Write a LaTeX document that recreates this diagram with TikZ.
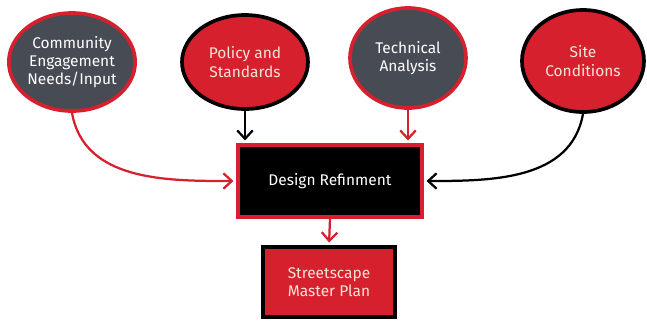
\documentclass[tikz,border=0pt]{standalone}
\usepackage{fontspec}
\setmainfont{Fira Sans}
\usepackage{tikz}
\usetikzlibrary{shapes.geometric,arrows.meta}
\definecolor{planred}{HTML}{D6202E}
\definecolor{slate}{HTML}{474B54}
\definecolor{cream}{HTML}{F6E4D8}

\begin{document}
\begin{tikzpicture}[x=0.025cm,y=-0.025cm,>={Straight Barb[length=6pt,width=11pt]},
	bubble/.style={ellipse, line width=2.6pt, align=center, inner sep=0pt, font=\fontsize{11}{13}\selectfont},
	greybubble/.style={bubble, draw=planred, fill=slate, text=white},
	redbubble/.style={bubble, draw=black, fill=planred, text=cream},
	panel/.style={rectangle, line width=2.4pt, align=center, inner sep=0pt, font=\fontsize{11}{13}\selectfont},
	link/.style={->, line width=1.6pt, shorten >=2pt}]
%		\draw [help lines] (0,0) grid (647,325);
		\useasboundingbox (0,0) rectangle (647,325);
		%Inputs
		\node [greybubble, minimum width=3.1cm, minimum height=2.45cm] (community) at (72,62) {Community\\Engagement\\Needs/Input};
		\node [redbubble, minimum width=3.15cm, minimum height=2.35cm] (policy) at (245,62) {Policy and\\Standards};
		\node [greybubble, minimum width=2.9cm, minimum height=2.5cm] (technical) at (408,58) {Technical\\Analysis};
		\node [redbubble, minimum width=3.05cm, minimum height=2.55cm] (site) at (583,61) {Site\\Conditions};
		%Refinement
		\node [panel, draw=planred, fill=black, text=white, minimum width=4.6cm, minimum height=1.8cm] (refine) at (330,181) {Design Refinment};
		%Plan
		\node [panel, draw=black, fill=planred, text=cream, minimum width=3.3cm, minimum height=1.75cm] (master) at (329,282) {Streetscape\\Master Plan};
		%Arrows
		\draw [link, planred] (community.south) to [out=-80, in=180] (refine.west);
		\draw [link, black] (policy.south) -- (policy.south |- refine.north);
		\draw [link, planred] (technical.south) -- (technical.south |- refine.north);
		\draw [link, black] (site.south) to [out=-100, in=0] (refine.east);
		\draw [link, planred] (refine.south) -- (master.north);
\end{tikzpicture}
\end{document}
